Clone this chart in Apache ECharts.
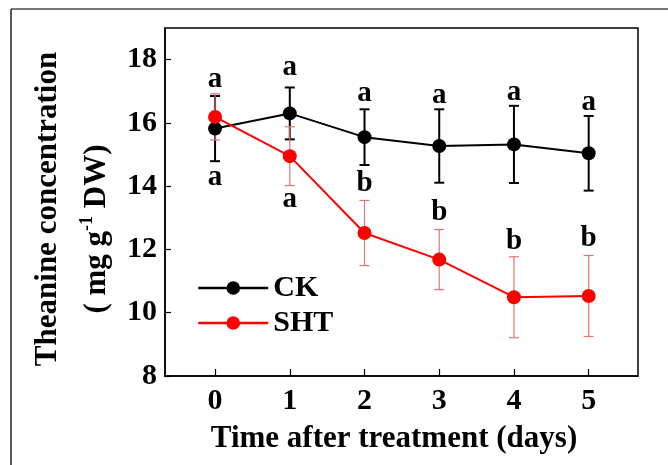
<!DOCTYPE html>
<html>
<head>
<meta charset="utf-8">
<script src="https://cdn.jsdelivr.net/npm/echarts@6/dist/echarts.min.js"></script>
<style>html,body{margin:0;padding:0;background:#fff}#c{width:668px;height:465px}</style>
</head>
<body>
<div id="c"></div>
<script>
// ---- data ----
var days = [0, 1, 2, 3, 4, 5];
var ckMean = [15.82, 16.30, 15.55, 15.27, 15.32, 15.04];
var ckErr  = [1.03, 0.82, 0.88, 1.16, 1.22, 1.18];
var shtMean = [16.19, 14.95, 12.52, 11.68, 10.49, 10.53];
var shtErr  = [0.73, 0.93, 1.03, 0.95, 1.28, 1.28];
var ckLetters = ['a', 'a', 'a', 'a', 'a', 'a'];
var ckLetterY = [17.38, 17.76, 16.94, 16.87, 16.97, 16.65];
var shtLetters = ['a', 'a', 'b', 'b', 'b', 'b'];
var shtLetterY = [14.26, 13.57, 14.07, 13.16, 12.25, 12.34];
var yTicks = [8, 10, 12, 14, 16, 18];
var xTicks = [0, 1, 2, 3, 4, 5];

var FONT = "'Liberation Serif', 'Times New Roman', serif";

function pairs(xs, ys) { return xs.map(function (x, i) { return [x, ys[i]]; }); }
function errData(xs, m, e) { return xs.map(function (x, i) { return [x, m[i] - e[i], m[i] + e[i]]; }); }
function errSeries(name, data, color, width, cap) {
  return {
    type: 'custom', name: name, data: data, z: 3,
    renderItem: function (params, api) {
      var x = api.value(0);
      var lo = api.coord([x, api.value(1)]);
      var hi = api.coord([x, api.value(2)]);
      var st = { stroke: color, lineWidth: width };
      return {
        type: 'group', children: [
          { type: 'line', shape: { x1: lo[0], y1: lo[1], x2: hi[0], y2: hi[1] }, style: st },
          { type: 'line', shape: { x1: lo[0] - cap, y1: lo[1], x2: lo[0] + cap, y2: lo[1] }, style: st },
          { type: 'line', shape: { x1: hi[0] - cap, y1: hi[1], x2: hi[0] + cap, y2: hi[1] }, style: st }
        ]
      };
    }
  };
}
function letterSeries(name, ys, letters) {
  return {
    type: 'custom', name: name, z: 6, silent: true,
    data: days.map(function (d, i) { return [d, ys[i], i]; }),
    renderItem: function (params, api) {
      var p = api.coord([api.value(0), api.value(1)]);
      return {
        type: 'text', x: p[0], y: p[1],
        style: { text: letters[api.value(2)], fill: '#000', font: 'bold 29px ' + FONT, textAlign: 'center', textVerticalAlign: 'middle' }
      };
    }
  };
}

var chart = echarts.init(document.getElementById('c'));
chart.setOption({
  animation: false,
  backgroundColor: '#fff',
  grid: { left: 165, right: 30, top: 28, bottom: 89, show: true, borderColor: '#000', borderWidth: 1.5 },
  xAxis: {
    type: 'value', min: -0.67, max: 5.66,
    axisLine: { show: true, onZero: false, lineStyle: { color: '#000', width: 1.5 } },
    axisTick: { show: true, inside: true, length: 7, customValues: xTicks, lineStyle: { color: '#000', width: 1.2 } },
    axisLabel: { customValues: xTicks, margin: 10, color: '#000', fontFamily: FONT, fontWeight: 'bold', fontSize: 30 },
    splitLine: { show: false }
  },
  yAxis: {
    type: 'value', min: 8, max: 19,
    axisLine: { show: true, onZero: false, lineStyle: { color: '#000', width: 1.5 } },
    axisTick: { show: true, inside: true, length: 6, customValues: yTicks, lineStyle: { color: '#000', width: 1.2 } },
    axisLabel: { customValues: yTicks, margin: 8, color: '#000', fontFamily: FONT, fontWeight: 'bold', fontSize: 30 },
    splitLine: { show: false }
  },
  legend: {
    data: [
      { name: 'CK', itemStyle: { color: '#000' }, lineStyle: { color: '#000', width: 2.5 } },
      { name: 'SHT', itemStyle: { color: '#ff0000' }, lineStyle: { color: '#ff0000', width: 2.5 } }
    ],
    orient: 'vertical', left: 192, top: 268, itemGap: 5,
    itemWidth: 70, itemHeight: 17,
    textStyle: { color: '#000', fontFamily: FONT, fontWeight: 'bold', fontSize: 30 }
  },
  series: [
    errSeries('ckErr', errData(days, ckMean, ckErr), '#000', 2, 5),
    errSeries('shtErr', errData(days, shtMean, shtErr), '#e57373', 1.2, 5),
    {
      type: 'line', name: 'CK', data: pairs(days, ckMean), z: 4,
      symbol: 'circle', symbolSize: 14,
      lineStyle: { color: '#000', width: 2 }, itemStyle: { color: '#000' }
    },
    {
      type: 'line', name: 'SHT', data: pairs(days, shtMean), z: 5,
      symbol: 'circle', symbolSize: 14,
      lineStyle: { color: '#ff0000', width: 2 }, itemStyle: { color: '#ff0000' }
    },
    letterSeries('ckLetters', ckLetterY, ckLetters),
    letterSeries('shtLetters', shtLetterY, shtLetters)
  ],
  graphic: [
    { type: 'line', shape: { x1: 11, y1: 9, x2: 668, y2: 9 }, style: { stroke: '#777', lineWidth: 2 } },
    { type: 'line', shape: { x1: 11, y1: 9, x2: 11, y2: 465 }, style: { stroke: '#222', lineWidth: 1.5 } },
    {
      type: 'text', x: 394, y: 439,
      style: { text: 'Time after treatment (days)', fill: '#000', font: 'bold 31px ' + FONT, textAlign: 'center', textVerticalAlign: 'middle' }
    },
    {
      type: 'group', x: 70, y: 210, rotation: Math.PI / 2,
      children: [
        {
          type: 'text', x: 1, y: -22,
          style: { text: 'Theanine concentration', fill: '#000', font: 'bold 31px ' + FONT, textAlign: 'center', textVerticalAlign: 'middle' }
        },
        {
          type: 'text', x: -19, y: 25,
          style: {
            text: '{n|( mg g}{s|-1}{n| DW)}', textAlign: 'center', textVerticalAlign: 'middle',
            rich: {
              n: { fill: '#000', fontFamily: FONT, fontWeight: 'bold', fontSize: 31, lineHeight: 34, verticalAlign: 'bottom' },
              s: { fill: '#000', fontFamily: FONT, fontWeight: 'bold', fontSize: 18, lineHeight: 34, verticalAlign: 'top' }
            }
          }
        }
      ]
    }
  ]
});
</script>
</body>
</html>
